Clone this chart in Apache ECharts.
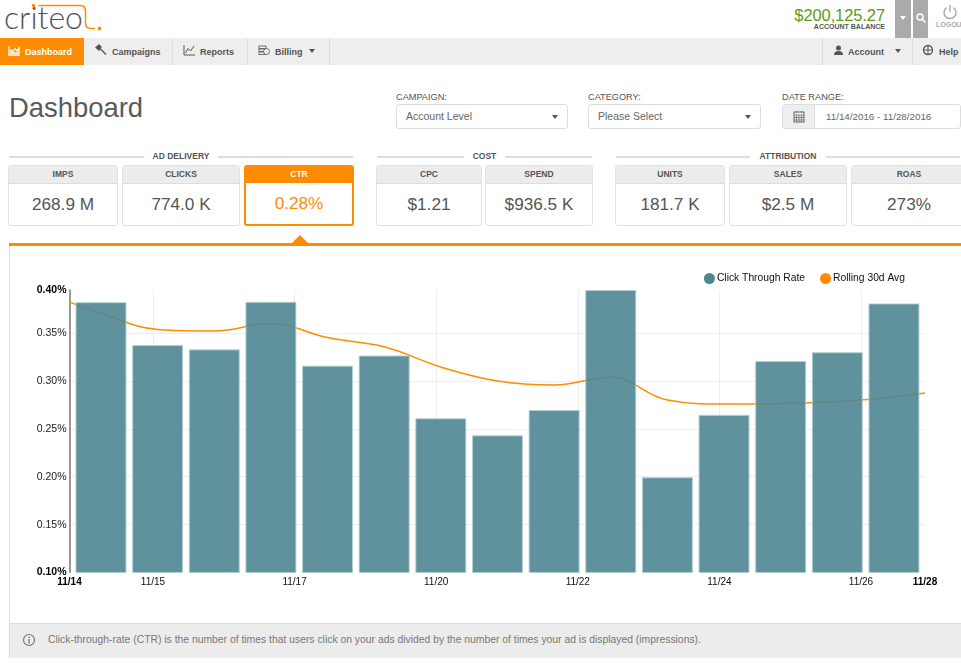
<!DOCTYPE html>
<html>
<head>
<meta charset="utf-8">
<title>Dashboard</title>
<script src="https://cdn.jsdelivr.net/npm/echarts@6/dist/echarts.min.js"></script>
<style>
  * { box-sizing: border-box; }
  html, body { margin: 0; width: 961px; height: 663px; overflow: hidden; background: #fff;
    font-family: "Liberation Sans", Arial, sans-serif; color: #555; }
  .abs { position: absolute; white-space: nowrap; }
  .nav { left: 0; top: 38px; width: 961px; height: 27px; background: #eee; }
  .tab { top: 38.5px; height: 27px; line-height: 27px; font-size: 9px; font-weight: bold; color: #555; }
  .sep { top: 38px; width: 1px; height: 27px; background: #ddd; }
  .lbl { font-size: 9.2px; color: #555; top: 92px; }
  .box { top: 104px; height: 25px; line-height: 23px; border: 1px solid #ddd; border-radius: 3px;
    font-size: 10.5px; color: #666; padding-left: 9px; }
  .caret { width: 0; height: 0; border-left: 3.5px solid transparent; border-right: 3.5px solid transparent; border-top: 4px solid #555; }
  .rule { top: 155.5px; height: 2px; background: #ddd; }
  .head { top: 151px; font-size: 8.5px; font-weight: bold; color: #555; text-align: center; }
  .tile { top: 165px; height: 60.5px; border: 1px solid #d8e4ea; border-radius: 3px; overflow: hidden; text-align: center; }
  .tile b { display: block; height: 18px; line-height: 17px; background: #ececec; border-bottom: 1px solid #ddd;
    font-size: 8.5px; color: #555; }
  .tile span { display: block; line-height: 40px; font-size: 17.2px; color: #555; }
  .tile.on { border: 2px solid #ff8c00; }
  .tile.on b { background: #ff8c00; color: #fff; border-bottom: 0; height: 16px; line-height: 14px; }
  .tile.on span { color: #ff8c00; line-height: 41px; }
  #chart { position: absolute; left: 10px; top: 246px; width: 950px; height: 377px; }
</style>
</head>
<body>

<!-- logo -->
<div class="abs" style="left:4px;top:-3px;font:300 32px Lato,'Liberation Sans',sans-serif;color:#555">criteo</div>
<svg class="abs" style="left:0;top:0" width="110" height="36">
  <circle cx="33.5" cy="5.5" r="1.8" fill="#ff8c00"/>
  <path d="M38.5 5.5H80Q85.5 5.5 85.5 11V23Q85.5 28.5 91 28.5H95" fill="none" stroke="#ff8c00" stroke-width="1.5"/>
  <circle cx="99.5" cy="28.5" r="1.9" fill="#ff8c00"/>
</svg>

<!-- balance and top buttons -->
<div class="abs" style="right:76px;top:6px;font-size:16.5px;color:#5c9a18;letter-spacing:-.1px">$200,125.27</div>
<div class="abs" style="right:76px;top:23px;font-size:7px;font-weight:bold;color:#555">ACCOUNT BALANCE</div>
<div class="abs" style="left:895px;top:0;width:16px;height:38px;background:#aaa"></div>
<div class="abs" style="left:913px;top:0;width:15px;height:38px;background:#aaa"></div>
<div class="abs caret" style="left:900px;top:16px;border-top-color:#fff"></div>
<svg class="abs" style="left:915px;top:12px" width="12" height="12"><circle cx="5" cy="5" r="3" fill="none" stroke="#fff" stroke-width="1.5"/><path d="M7.5 7.5L10.5 10.5" stroke="#fff" stroke-width="1.6"/></svg>
<svg class="abs" style="left:942px;top:4px" width="16" height="16"><path d="M4.6 3.6A6 6 0 1 0 11.4 3.6M8 1V8" fill="none" stroke="#aaa" stroke-width="1.4"/></svg>
<div class="abs" style="left:936px;top:21px;font-size:7px;font-weight:bold;color:#aaa">LOGOUT</div>

<!-- nav bar -->
<div class="abs nav"></div>
<div class="abs" style="left:0;top:38px;width:84px;height:27px;background:#ff8c00"></div>
<svg class="abs" style="left:8px;top:45px" width="13" height="12"><path d="M1 1V10H12M3 8V5L5 6.500L7 3.500L9 6L11 3V8Z" fill="none" stroke="#fff" stroke-width="1.300"/></svg>
<div class="abs tab" style="left:25px;color:#fff">Dashboard</div>
<svg class="abs" style="left:95px;top:44px" width="13" height="13"><path d="M1 3.500L4 1L6 3L4 6ZM4 3.500L11 10.500" fill="#555" stroke="#555" stroke-width="1.300"/></svg>
<div class="abs tab" style="left:112px">Campaigns</div>
<div class="abs sep" style="left:172px"></div>
<svg class="abs" style="left:183px;top:44px" width="13" height="13"><path d="M1 1V11H12M2.500 9L5 4.500L7.500 7L11 2" fill="none" stroke="#555"/></svg>
<div class="abs tab" style="left:200px">Reports</div>
<div class="abs sep" style="left:247px"></div>
<svg class="abs" style="left:258px;top:45px" width="12" height="11"><rect x="1" y="1" width="7" height="2.500" fill="none" stroke="#555" stroke-width=".8"/><rect x="1" y="4" width="7" height="2.500" fill="none" stroke="#555" stroke-width=".8"/><rect x="1" y="7" width="7" height="2.500" fill="none" stroke="#555" stroke-width=".8"/><circle cx="8.500" cy="6.500" r="3" fill="#eee" stroke="#555" stroke-width=".8"/></svg>
<div class="abs tab" style="left:275px">Billing</div>
<div class="abs caret" style="left:309px;top:49px"></div>
<div class="abs sep" style="left:329px"></div>
<div class="abs sep" style="left:822px"></div>
<svg class="abs" style="left:833px;top:45px" width="11" height="11"><circle cx="5.500" cy="3" r="2.500" fill="#555"/><path d="M1 10Q1 6 5.500 6T10 10Z" fill="#555"/></svg>
<div class="abs tab" style="left:848px">Account</div>
<div class="abs caret" style="left:895px;top:49px"></div>
<div class="abs sep" style="left:912px"></div>
<svg class="abs" style="left:922px;top:44px" width="12" height="12"><circle cx="6" cy="6" r="4.500" fill="none" stroke="#555" stroke-width="1.300"/><path d="M1.500 6H10.500M6 1.500V10.500" stroke="#555"/></svg>
<div class="abs tab" style="left:939px">Help</div>

<!-- title and filters -->
<div class="abs" style="left:9px;top:91.5px;font-size:27.4px;color:#5a5a5a">Dashboard</div>
<div class="abs lbl" style="left:396px">CAMPAIGN:</div>
<div class="abs box" style="left:396px;width:172px">Account Level</div>
<div class="abs caret" style="left:552px;top:115px"></div>
<div class="abs lbl" style="left:588px">CATEGORY:</div>
<div class="abs box" style="left:588px;width:173px">Please Select</div>
<div class="abs caret" style="left:745px;top:115px"></div>
<div class="abs lbl" style="left:782px">DATE RANGE:</div>
<div class="abs box" style="left:782px;width:179px;padding-left:43px;font-size:9.8px">11/14/2016 - 11/28/2016</div>
<div class="abs" style="left:783px;top:105px;width:32px;height:23px;background:#eee;border-right:1px solid #ddd;border-radius:3px 0 0 3px"></div>
<svg class="abs" style="left:793px;top:110px" width="12" height="13"><rect x="1" y="2" width="10" height="10" fill="none" stroke="#666"/><path d="M1 5H11M1 7.500H11M1 10H11M3.500 5V12M6 5V12M8.500 5V12M3.500 1V3M8.500 1V3" stroke="#666" stroke-width=".7"/></svg>

<!-- kpi groups -->
<div class="abs rule" style="left:9px;width:135px"></div>
<div class="abs head" style="left:144px;width:74px">AD DELIVERY</div>
<div class="abs rule" style="left:218px;width:135px"></div>
<div class="abs rule" style="left:377px;width:87px"></div>
<div class="abs head" style="left:464px;width:41px">COST</div>
<div class="abs rule" style="left:505px;width:87px"></div>
<div class="abs rule" style="left:616px;width:134px"></div>
<div class="abs head" style="left:750px;width:76px">ATTRIBUTION</div>
<div class="abs rule" style="left:826px;width:134px"></div>

<div class="abs tile" style="left:8px;width:110px"><b>IMPS</b><span>268.9 M</span></div>
<div class="abs tile" style="left:122px;width:118px"><b>CLICKS</b><span>774.0 K</span></div>
<div class="abs tile on" style="left:244px;width:110px"><b>CTR</b><span>0.28%</span></div>
<div class="abs tile" style="left:376px;width:106px"><b>CPC</b><span>$1.21</span></div>
<div class="abs tile" style="left:485px;width:108px"><b>SPEND</b><span>$936.5 K</span></div>
<div class="abs tile" style="left:615px;width:110px"><b>UNITS</b><span>181.7 K</span></div>
<div class="abs tile" style="left:729px;width:118px"><b>SALES</b><span>$2.5 M</span></div>
<div class="abs tile" style="left:851px;width:116px"><b>ROAS</b><span>273%</span></div>

<!-- chart panel -->
<div class="abs" style="left:9px;top:245px;width:960px;height:413px;border:1px solid #ddd"></div>
<div class="abs" style="left:9px;top:243px;width:952px;height:3px;background:#ff8c00"></div>
<div class="abs" style="left:292px;top:235px;width:0;height:0;border-left:8px solid transparent;border-right:8px solid transparent;border-bottom:8px solid #ff8c00"></div>
<div id="chart"></div>
<div class="abs" style="left:10px;top:623px;width:951px;height:35px;background:#ececec;border-top:1px solid #ddd"></div>
<svg class="abs" style="left:22px;top:633px" width="14" height="14"><circle cx="7" cy="7" r="5.500" fill="none" stroke="#777" stroke-width="1.200"/><path d="M7 6V10.500M7 3.500V5" stroke="#777" stroke-width="1.300"/></svg>
<div class="abs" style="left:48px;top:634px;font-size:10.37px;color:#777">Click-through-rate (CTR) is the number of times that users click on your ads divided by the number of times your ad is displayed (impressions).</div>

<script>
// CTR per day, 11/14 .. 11/28
var barDays = [0, 1, 2, 3, 4, 5, 6, 7, 8, 9, 10, 11, 12, 13, 14];
var ctrValues = [0.3823, 0.3375, 0.333, 0.3827, 0.316, 0.3266, 0.261, 0.2432, 0.2698, 0.395, 0.1995, 0.2646, 0.3208, 0.33, 0.381];

// rolling average runs past the first and last bar, up to the axis ends
var axisStart = -0.556;
var axisEnd = 14.548;
var avgDays = [axisStart, 0, 1, 2, 3, 4, 5, 6, 7, 8, 9, 10, 11, 12, 13, 14, axisEnd];
var avgValues = [0.3823, 0.3708, 0.3537, 0.3521, 0.3599, 0.3453, 0.3357, 0.3146, 0.3, 0.2958, 0.3039, 0.2802, 0.276, 0.2766, 0.2786, 0.2833, 0.2875];

// x ticks sit between the days in the original chart
var tickDays = [axisStart, 0.918, 3.418, 5.918, 8.418, 10.918, 13.418, axisEnd];
var tickLabels = ['11/14', '11/15', '11/17', '11/20', '11/22', '11/24', '11/26', '11/28'];

var yMin = 0.1;
var yMax = 0.395;

var chart = echarts.init(document.getElementById('chart'));

var option = {
  animation: false,
  textStyle: { fontFamily: '"Liberation Sans", Arial, sans-serif' },
  legend: {
    top: 22,
    right: 50,
    itemWidth: 11,
    itemHeight: 11,
    itemGap: 15,
    textStyle: { fontSize: 10.3, color: '#111', padding: [0, 0, 0, -3] },
    data: [
      { name: 'Click Through Rate', icon: 'circle', itemStyle: { color: '#4f868f', opacity: 1, borderWidth: 0 } },
      { name: 'Rolling 30d Avg', icon: 'circle', itemStyle: { color: '#ff8c00' } }
    ]
  },
  grid: { left: 59.5, top: 44, width: 855.5, height: 282.5 },
  xAxis: {
    type: 'value',
    min: axisStart,
    max: axisEnd,
    axisLine: { show: false },
    axisTick: { show: false, customValues: tickDays },
    axisLabel: {
      customValues: tickDays,
      margin: 5,
      showMinLabel: true,
      showMaxLabel: true,
      color: '#111',
      fontSize: 10,
      formatter: function (val) {
        var i = tickDays.indexOf(val);
        if (i === 0 || i === tickDays.length - 1) return '{b|' + tickLabels[i] + '}';
        return tickLabels[i];
      },
      rich: { b: { fontWeight: 'bold', fontSize: 10, color: '#000' } }
    },
    splitLine: { show: true, showMinLine: false, showMaxLine: false, lineStyle: { color: '#eee' } }
  },
  yAxis: {
    type: 'value',
    min: yMin,
    max: yMax,
    interval: 0.05,
    position: 'left',
    axisLine: { show: true, onZero: false, lineStyle: { color: '#777', width: 1.5 } },
    axisTick: { show: false },
    axisLabel: {
      margin: 3,
      color: '#222',
      fontSize: 10.5,
      formatter: function (val) {
        var txt = val.toFixed(2) + '%';
        if (val === yMin || val === yMax) return '{b|' + txt + '}';
        return txt;
      },
      rich: { b: { fontWeight: 'bold', fontSize: 10.5, color: '#000' } }
    },
    splitLine: { showMinLine: false, showMaxLine: false, lineStyle: { color: '#eee' } }
  },
  series: [
    {
      name: 'Rolling 30d Avg',
      type: 'line',
      z: 1,
      smooth: 0.4,
      showSymbol: false,
      lineStyle: { color: '#ff8c00', width: 1.5 },
      itemStyle: { color: '#ff8c00' },
      data: avgDays.map(function (d, i) { return [d, avgValues[i]]; })
    },
    {
      name: 'Click Through Rate',
      type: 'bar',
      z: 2,
      barWidth: 51,
      itemStyle: { color: '#4f8692', opacity: 0.9, borderColor: '#b5d0d5', borderWidth: 1 },
      data: barDays.map(function (d, i) { return [d, ctrValues[i]]; })
    }
  ]
};

chart.setOption(option);
</script>
</body>
</html>
